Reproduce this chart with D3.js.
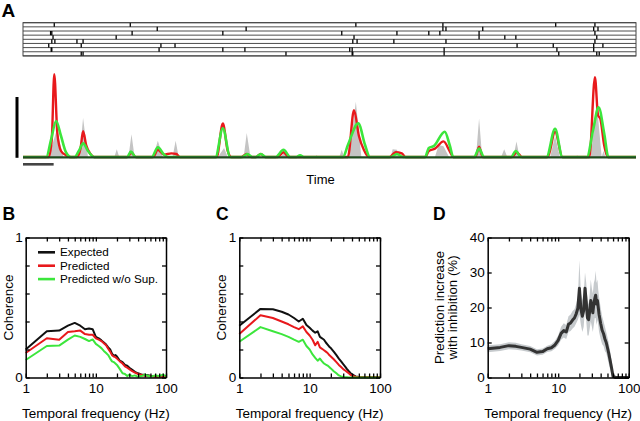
<!DOCTYPE html>
<html><head><meta charset="utf-8">
<script src="https://cdn.jsdelivr.net/npm/d3@7"></script>
<style>
body{margin:0;background:#fff}
svg{display:block;font-family:"Liberation Sans",Arial,Helvetica,sans-serif}
</style>
</head><body>
<svg id="chart" width="640" height="421"></svg>
<script>
// ---------------- DATA ----------------
// Panel A: spike raster (time in s), 8 trials
const spikeTrials = [
  [0.51, 1.75, 5.43, 6.85, 8.69, 9.33],
  [2.19, 3.64, 6.85, 6.90, 7.50, 9.31, 9.38],
  [0.45, 0.47, 1.78, 3.26, 5.20, 6.10, 6.62, 6.80, 7.44, 9.33],
  [0.49, 1.52, 5.40, 7.44, 7.86, 8.04, 9.36],
  [0.47, 0.52, 0.88, 0.98, 5.38, 5.45, 6.05, 6.90, 9.33],
  [0.42, 0.95, 2.25, 2.48, 8.06, 8.65, 9.31, 9.46],
  [0.46, 0.47, 2.22, 3.26, 3.62, 5.33, 5.37, 6.87, 8.71, 9.31],
  [0.95, 0.98, 4.29, 5.37, 5.38, 6.87, 8.74, 9.36, 9.40]
];
// Panel A: firing rate traces [time (s), rate (scale-bar units)]
const rateObserved = [
  [0,0],[0.42,0],[0.55,0.45],[0.66,0],[0.92,0],[0.98,0.65],[1.06,0],
  [1.49,0],[1.53,0.13],[1.57,0],[1.72,0],[1.77,0.38],[1.82,0],
  [2.12,0],[2.2,0.27],[2.28,0],[2.44,0],[2.49,0.27],[2.54,0],
  [3.18,0],[3.28,0.15],[3.34,0],[3.6,0],[3.65,0.4],[3.71,0],
  [4.2,0],[4.25,0.06],[4.3,0],[4.76,0],[4.79,0.03],[4.82,0],
  [5.16,0],[5.2,0.12],[5.24,0],[5.32,0],[5.43,0.92],[5.52,0],
  [6.0,0],[6.03,0.13],[6.1,0.12],[6.14,0],[6.72,0],[6.78,0.2],[6.86,0.18],[6.95,0],
  [7.39,0],[7.44,0.64],[7.49,0],[7.8,0],[7.85,0.13],[7.9,0],
  [8.0,0],[8.05,0.26],[8.1,0],[8.6,0],[8.68,0.35],[8.76,0],
  [9.02,0],[9.04,0.03],[9.06,0],[9.26,0],[9.36,0.9],[9.44,0],[9.47,0.1],[9.5,0],[10,0]
];
const ratePredicted = [
  [0,0],[0.42,0],[0.47,0.3],[0.51,1.38],[0.56,0.4],[0.62,0.1],[0.7,0.03],[0.76,0],
  [0.88,0],[0.94,0.15],[0.98,0.43],[1.03,0.2],[1.1,0.05],[1.16,0],
  [1.7,0],[1.77,0.07],[1.84,0],
  [2.12,0],[2.2,0.12],[2.3,0.04],[2.42,0.06],[2.5,0.05],[2.56,0],
  [3.16,0],[3.26,0.56],[3.34,0.1],[3.4,0],[3.56,0],[3.65,0.05],[3.72,0],
  [3.8,0],[3.88,0.05],[3.95,0],[4.15,0],[4.25,0.08],[4.33,0],
  [5.3,0],[5.4,0.78],[5.48,0.35],[5.56,0.12],[5.64,0],
  [5.98,0],[6.08,0.08],[6.18,0.06],[6.24,0],
  [6.56,0],[6.62,0.1],[6.72,0.14],[6.86,0.26],[6.96,0.1],[7.02,0],
  [7.38,0],[7.44,0.17],[7.5,0],[7.98,0],[8.05,0.08],[8.14,0],
  [8.56,0],[8.68,0.42],[8.8,0],
  [9.24,0],[9.33,1.33],[9.38,0.7],[9.42,0.63],[9.48,0.2],[9.54,0],[10,0]
];
const ratePredictedNoSup = [
  [0,0],[0.38,0],[0.46,0.3],[0.54,0.6],[0.62,0.35],[0.7,0.08],[0.78,0],
  [0.84,0],[0.92,0.12],[0.98,0.23],[1.06,0.1],[1.16,0],
  [1.7,0],[1.76,0.09],[1.84,0],[2.1,0],[2.2,0.16],[2.3,0.04],[2.36,0],
  [3.14,0],[3.26,0.48],[3.38,0],[3.58,0],[3.66,0.05],[3.74,0],
  [3.8,0],[3.88,0.05],[3.96,0],[4.12,0],[4.25,0.12],[4.36,0],[4.46,0],[4.52,0.03],[4.58,0],
  [5.22,0],[5.3,0.2],[5.47,0.56],[5.58,0.2],[5.66,0],
  [6.0,0],[6.1,0.05],[6.2,0],
  [6.56,0],[6.62,0.15],[6.7,0.18],[6.88,0.42],[6.96,0.2],[7.02,0],
  [7.36,0],[7.44,0.14],[7.52,0],[7.96,0],[8.04,0.1],[8.12,0],
  [8.54,0],[8.68,0.47],[8.8,0],
  [9.2,0],[9.3,0.45],[9.39,0.83],[9.48,0.4],[9.55,0],[10,0]
];

// Panel B: coherence vs frequency
const freqB = [1,2,3,4,5,6,7,8,9,10,11,12,13,14,15,16,17,18,19,20,22,24,26,28,30,33,36,40,45,50,60,70,80,90,100];
const cohExpectedB = [0.20,0.33,0.335,0.37,0.39,0.37,0.345,0.35,0.345,0.29,0.28,0.265,0.25,0.235,0.215,0.20,0.17,0.155,0.16,0.15,0.12,0.11,0.09,0.085,0.07,0.055,0.04,0.03,0.02,0.02,0.012,0.01,0.008,0.006,0.005];
const cohPredictedB = [0.175,0.28,0.27,0.325,0.33,0.335,0.31,0.305,0.305,0.28,0.27,0.26,0.245,0.23,0.205,0.185,0.16,0.15,0.145,0.135,0.115,0.10,0.08,0.07,0.06,0.045,0.035,0.025,0.018,0.012,0.01,0.006,0.005,0.004,0.003];
const cohNoSupB = [0.125,0.225,0.228,0.27,0.30,0.29,0.275,0.26,0.272,0.24,0.225,0.21,0.19,0.175,0.16,0.135,0.115,0.11,0.10,0.09,0.06,0.03,0.025,0.01,0.02,0.01,0.015,0.005,0.01,0.02,0.005,0.015,0.01,0.02,0.01];

// Panel C
const freqC = [1,2,3,4,5,6,7,8,9,10,11,12,13,14,15,16,17,18,19,20,22,24,26,28,30,32,34,36,38,40,45,50,60,70,80,90,100];
const cohExpectedC = [0.37,0.49,0.487,0.47,0.45,0.425,0.40,0.42,0.375,0.355,0.335,0.32,0.33,0.29,0.28,0.27,0.25,0.235,0.22,0.21,0.185,0.16,0.135,0.115,0.095,0.078,0.06,0.045,0.032,0.022,0.008,0.004,0.003,0.003,0.002,0.002,0.002];
const cohPredictedC = [0.31,0.445,0.425,0.40,0.38,0.36,0.345,0.365,0.325,0.30,0.27,0.23,0.255,0.215,0.205,0.195,0.185,0.175,0.16,0.15,0.13,0.11,0.09,0.075,0.06,0.05,0.04,0.03,0.02,0.012,0.005,0.003,0.002,0.002,0.002,0.002,0.002];
const cohNoSupC = [0.255,0.36,0.33,0.31,0.29,0.27,0.255,0.27,0.225,0.2,0.165,0.14,0.12,0.135,0.115,0.1,0.092,0.085,0.075,0.065,0.045,0.03,0.015,0.008,0.004,0.002,0.001,0,0,0,0,0,0,0,0,0,0];

// Panel D: prediction increase with inhibition (%)
const freqD = [1,1.5,2,2.5,3,4,5,6,7,8,9,10,11,12,13,14,15,16,17,18,19,20,21,22,23,24,25,26,27,28,29,30,31,32,33,34,35,36,37,38,40,42,44,46,48,50,52,55,58,60,65,70,80,90,100];
const incMeanD = [8.2,8.6,9.1,8.9,8.6,8.1,7.2,7.4,8.2,8.5,9.3,10.6,12.6,13.4,13.0,15.2,15.6,16.4,17.0,18.2,19.8,25.5,19.5,17.5,19.2,25.5,21.5,17.0,16.5,19.0,22.0,20.0,18.5,21.0,22.5,23.5,21.0,22.0,20.0,18.0,15.5,13.5,12.5,11.0,10.0,8.5,7.0,4.5,2.0,0.3,0,0,0,0,0];
const incUpperD = [9.2,9.5,10.1,9.9,9.5,9.0,8.1,8.3,9.1,9.5,10.5,12,14.5,15.5,15,17.5,18,19,19.5,21,23,33.5,24,22,24,30,27,22,21,24,28,25.5,24,27,28,30.5,27,28,25,23,20,17.5,16,14.5,13,11.5,10,7,4,1.5,0,0,0,0,0];
const incLowerD = [7.2,7.6,8.1,7.9,7.7,7.2,6.3,6.5,7.3,7.5,8.2,9.2,10.8,11.4,11,13,13.3,14,14.5,15.5,16.5,18,15,13,14.5,20,16,12,12,14,16,14.5,13,15,17,17,15,16.5,15,13,11,9.5,9,7.5,7,5.5,4,2,0,0,0,0,0,0,0];

const freqTicks = [1,2,3,4,5,6,7,8,9,10,20,30,40,50,60,70,80,90,100];
const freqLabels = [1,10,100];
const legendLabels = ["Expected","Predicted","Predicted w/o Sup."];
const colors = {black:"#111111", red:"#e8191c", green:"#3ce63c", gray:"#c4c4c4"};

// ---------------- DRAW ----------------
const svg = d3.select("#chart");

// Panel letters
svg.append("text").attr("x",1.5).attr("y",17).attr("font-size",19).attr("font-weight","bold").text("A");
svg.append("text").attr("x",2.5).attr("y",220).attr("font-size",17.5).attr("font-weight","bold").text("B");
svg.append("text").attr("x",216).attr("y",220).attr("font-size",17.5).attr("font-weight","bold").text("C");
svg.append("text").attr("x",433).attr("y",220).attr("font-size",17.5).attr("font-weight","bold").text("D");

// ----- Panel A raster -----
const xT = d3.scaleLinear().domain([0,10]).range([23,636]);
const rasterTop = 22.7, rowH = 4.15, nRows = spikeTrials.length;
const rowY = d3.scaleLinear().domain([0,nRows]).range([rasterTop, rasterTop + nRows*rowH]);
const gR = svg.append("g");
gR.selectAll("line.row").data(d3.range(nRows+1)).join("line")
  .attr("x1",xT(0)).attr("x2",xT(10))
  .attr("y1",d=>rowY(d)).attr("y2",d=>rowY(d))
  .attr("stroke","#3a3a3a").attr("stroke-width",0.9);
spikeTrials.forEach((row,i)=>{
  gR.selectAll(null).data(row).join("line")
    .attr("x1",d=>xT(d)).attr("x2",d=>xT(d))
    .attr("y1",rowY(i)).attr("y2",rowY(i+1))
    .attr("stroke","#000").attr("stroke-width",1.3);
});
gR.append("rect").attr("x",xT(0)).attr("y",rowY(0)).attr("width",xT(10)-xT(0)).attr("height",rowY(nRows)-rowY(0))
  .attr("fill","none").attr("stroke","#444").attr("stroke-width",1);

// ----- Panel A rates -----
const yT = d3.scaleLinear().domain([0,1]).range([157,97]);
svg.append("path").datum(rateObserved)
  .attr("d", d3.area().x(d=>xT(d[0])).y0(yT(0)).y1(d=>yT(d[1])))
  .attr("fill",colors.gray);
const smooth = d3.line().x(d=>xT(d[0])).y(d=>yT(d[1])).curve(d3.curveMonotoneX);
svg.append("path").datum(ratePredicted).attr("d",smooth)
  .attr("fill","none").attr("stroke",colors.red).attr("stroke-width",2.4).attr("stroke-linejoin","round");
svg.append("path").datum(ratePredictedNoSup).attr("d",smooth)
  .attr("fill","none").attr("stroke",colors.green).attr("stroke-width",2.6).attr("stroke-linejoin","round");
svg.append("line").attr("x1",xT(0)).attr("x2",xT(10)).attr("y1",yT(0)+0.3).attr("y2",yT(0)+0.3)
  .attr("stroke","#1f4a1f").attr("stroke-width",2.2);
// scale bars
svg.append("line").attr("x1",17).attr("x2",17).attr("y1",yT(0)+0.8).attr("y2",yT(1)).attr("stroke","#000").attr("stroke-width",3);
svg.append("line").attr("x1",xT(0)).attr("x2",xT(0.5)).attr("y1",164.3).attr("y2",164.3).attr("stroke","#444").attr("stroke-width",2.6);
svg.append("text").attr("x",320.5).attr("y",184).attr("text-anchor","middle").attr("font-size",13).text("Time");

// ----- helper for framed panels -----
function frame(g, x, y, yTicks, yLabelFn){
  const [x0,x1] = x.range(), [y0,y1] = y.range(); // y0 bottom
  const fmt = d => freqLabels.includes(d) ? d3.format("d")(d) : "";
  const ax = [
    g.append("g").attr("transform",`translate(0,${y0})`).call(d3.axisBottom(x).tickValues(freqTicks).tickSizeInner(-4).tickSizeOuter(0).tickPadding(5.5).tickFormat(fmt)),
    g.append("g").attr("transform",`translate(0,${y1})`).call(d3.axisTop(x).tickValues(freqTicks).tickSizeInner(-4).tickSizeOuter(0).tickFormat("")),
    g.append("g").attr("transform",`translate(${x0},0)`).call(d3.axisLeft(y).tickValues(yTicks).tickSizeInner(-4).tickSizeOuter(0).tickPadding(3).tickFormat(yLabelFn)),
    g.append("g").attr("transform",`translate(${x1},0)`).call(d3.axisRight(y).tickValues(yTicks).tickSizeInner(-4).tickSizeOuter(0).tickFormat(""))
  ];
  ax.forEach(a=>{
    a.selectAll(".domain").attr("stroke","#000").attr("stroke-width",1.5);
    a.selectAll(".tick line").attr("stroke","#000").attr("stroke-width",1.3);
    a.selectAll("text").attr("font-size",13.5).attr("font-family","'Liberation Sans',Arial,sans-serif").attr("fill","#000");
  });
  g.append("text").attr("x",(x0+x1)/2).attr("y",418).attr("text-anchor","middle").attr("font-size",13.5).text("Temporal frequency (Hz)");
}

function coherencePanel(left, right, freqs, sExp, sPred, sNo, ylabX, legend){
  const g = svg.append("g");
  const x = d3.scaleLog().domain([1,100]).range([left,right]);
  const y = d3.scaleLinear().domain([0,1]).range([377.5,237.5]);
  const line = d3.line().x((d,i)=>x(freqs[i])).y(d=>y(d));
  [[sExp,colors.black],[sPred,colors.red],[sNo,colors.green]].forEach(([s,c])=>{
    g.append("path").datum(s).attr("d",line).attr("fill","none").attr("stroke",c).attr("stroke-width",2).attr("stroke-linejoin","round");
  });
  frame(g, x, y, [0,0.2,0.4,0.6,0.8,1], d => (d===0||d===1) ? d : "");
  g.append("text").attr("transform",`translate(${ylabX},${(237.5+377.5)/2}) rotate(-90)`)
    .attr("text-anchor","middle").attr("font-size",13.5).text("Coherence");
  if(legend){
    const cols=[colors.black,colors.red,colors.green];
    legendLabels.forEach((lab,i)=>{
      const yy = 252.3 + i*13.4;
      g.append("line").attr("x1",38).attr("x2",55).attr("y1",yy).attr("y2",yy).attr("stroke",cols[i]).attr("stroke-width",2.6);
      g.append("text").attr("x",60).attr("y",yy).attr("dy","0.35em").attr("font-size",11.7).text(lab);
    });
  }
}
coherencePanel(25.7,166,freqB,cohExpectedB,cohPredictedB,cohNoSupB,12.5,true);
coherencePanel(239.3,380,freqC,cohExpectedC,cohPredictedC,cohNoSupC,226,false);

// ----- Panel D -----
{
  const g = svg.append("g");
  const x = d3.scaleLog().domain([1,100]).range([487.7,628.7]);
  const y = d3.scaleLinear().domain([0,40]).range([377.5,237.5]);
  const band = d3.area().x((d,i)=>x(freqD[i])).y0((d,i)=>y(Math.max(0,incLowerD[i]))).y1(d=>y(Math.max(0,d)));
  g.append("path").datum(incUpperD).attr("d",band).attr("fill","#c6cacd");
  g.append("path").datum(incMeanD).attr("d",d3.line().x((d,i)=>x(freqD[i])).y(d=>y(d)))
    .attr("fill","none").attr("stroke","#333").attr("stroke-width",3).attr("stroke-linejoin","round");
  frame(g, x, y, [0,10,20,30,40], d=>d);
  const yl = g.append("text").attr("transform",`translate(${444},${307.5}) rotate(-90)`)
    .attr("text-anchor","middle").attr("font-size",13.3);
  yl.append("tspan").attr("x",0).attr("dy",0).text("Prediction increase");
  yl.append("tspan").attr("x",0).attr("dy","1.0em").text("with inhibition (%)");
}
</script>
</body></html>
